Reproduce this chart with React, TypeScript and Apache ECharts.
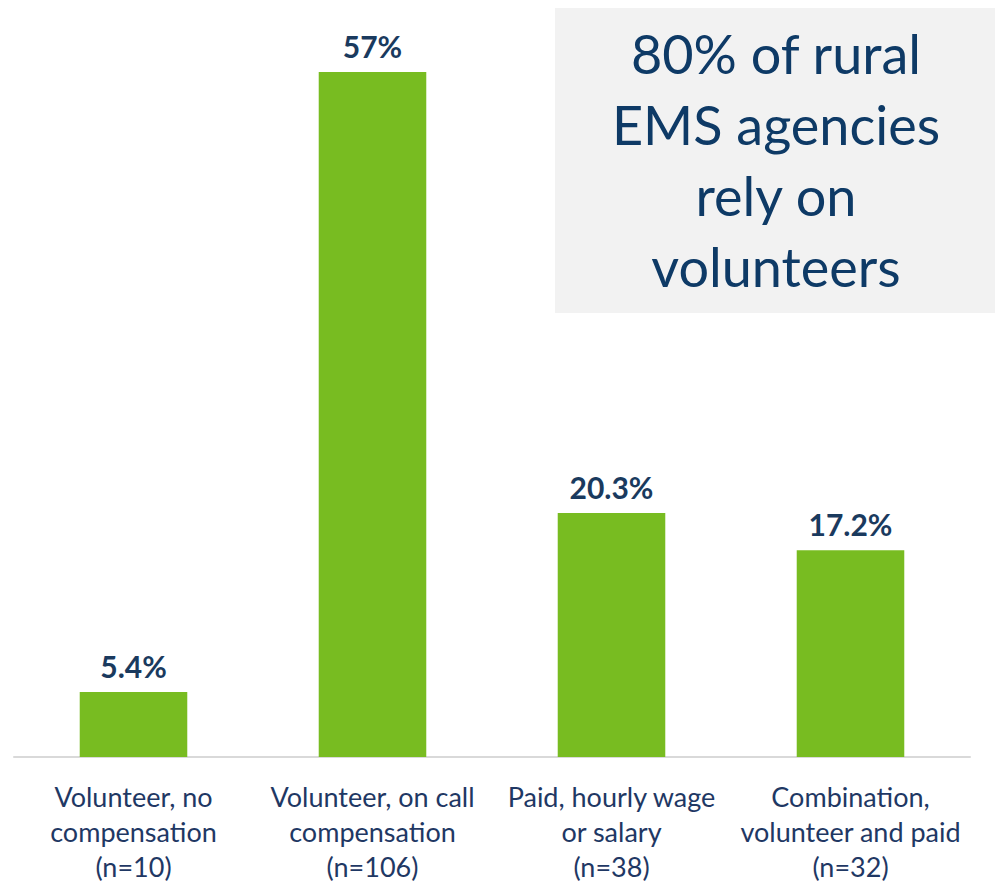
import React, { useEffect, useRef } from "react";
import * as echarts from "echarts";

const categories = [
  "Volunteer, no\ncompensation\n(n=10)",
  "Volunteer, on call\ncompensation\n(n=106)",
  "Paid, hourly wage\nor salary\n(n=38)",
  "Combination,\nvolunteer and paid\n(n=32)",
];
const values = [5.4, 57, 20.3, 17.2];
const valueLabels = ["5.4%", "57%", "20.3%", "17.2%"];
const calloutLines = ["80% of rural", "EMS agencies", "rely on", "volunteers"];

export default function App() {
  const ref = useRef<HTMLDivElement>(null);
  useEffect(() => {
    if (!ref.current) return;
    const chart = echarts.init(ref.current, null, { renderer: "svg" });
    const font = "Lato, 'Open Sans', sans-serif";
    chart.setOption({
      animation: false,
      backgroundColor: "#ffffff",
      grid: { left: 14, right: 25, top: 36, bottom: 129, containLabel: false },
      xAxis: {
        type: "category",
        data: categories,
        axisLine: { show: true, lineStyle: { color: "#d9d9d9", width: 2 } },
        axisTick: { show: false },
        axisLabel: {
          color: "#1f3864",
          fontSize: 27,
          fontFamily: font,
          lineHeight: 35,
          margin: 22,
          interval: 0,
        },
      },
      yAxis: {
        type: "value",
        min: 0,
        max: 60,
        show: false,
        splitLine: { show: false },
      },
      graphic: [
        {
          type: "rect",
          shape: { x: 555, y: 8, width: 440, height: 305 },
          style: { fill: "#f2f2f2" },
          z: 0,
        },
        {
          type: "text",
          x: 776,
          y: 18,
          z: 1,
          style: {
            text: calloutLines.join("\n"),
            fill: "#0e3a66",
            fontSize: 54,
            lineHeight: 71,
            fontFamily: font,
            align: "center",
            verticalAlign: "top",
          },
        },
      ],
      series: [
        {
          type: "bar",
          data: values,
          barWidth: "45%",
          itemStyle: { color: "#78bc21" },
          label: {
            show: true,
            position: "top",
            distance: 11,
            color: "#1a3a5e",
            fontSize: 30,
            fontWeight: "bold",
            fontFamily: font,
            formatter: (p: any) => valueLabels[p.dataIndex],
          },
        },
      ],
    });
    return () => chart.dispose();
  }, []);
  return (
    <div
      ref={ref}
      style={{ position: "fixed", left: 0, top: 0, width: 995, height: 886 }}
    />
  );
}
